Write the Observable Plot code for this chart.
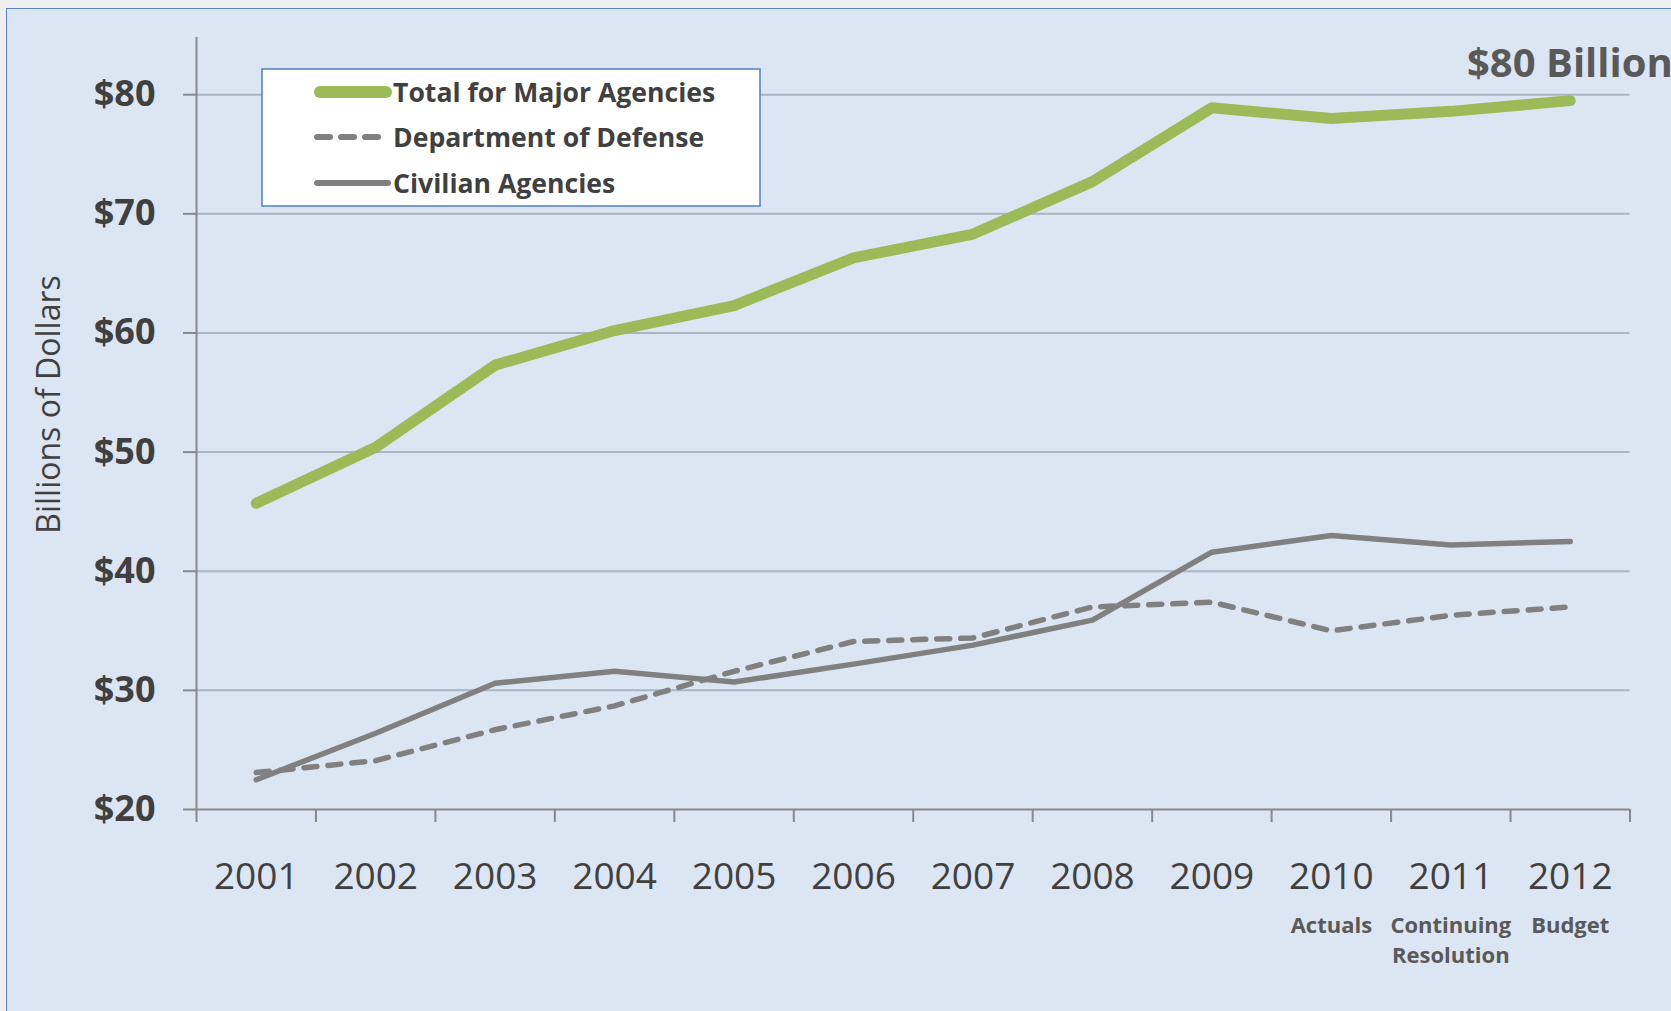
<!DOCTYPE html>
<html>
<head>
<meta charset="utf-8">
<script src="https://cdn.jsdelivr.net/npm/d3@7"></script>
<script src="https://cdn.jsdelivr.net/npm/@observablehq/plot@0.6"></script>
<style>
html, body { margin: 0; padding: 0; width: 1671px; height: 1011px; overflow: hidden; background: #efefef; font-family: "Open Sans", sans-serif; }
#panel { position: absolute; left: 6px; top: 8px; width: 1700px; height: 1100px; background: #dce6f2; border-left: 1.5px solid #5b87c5; border-top: 1.5px solid #5b87c5; }
#chart { position: absolute; left: 0; top: 0; }
#overlay { position: absolute; left: 0; top: 0; overflow: visible; }
</style>
</head>
<body>
<div id="panel"></div>
<div id="chart"></div>
<svg id="overlay" width="1671" height="1011"></svg>
<script>
// ---- data (billions of dollars) ----
const years = [2001, 2002, 2003, 2004, 2005, 2006, 2007, 2008, 2009, 2010, 2011, 2012];
const totalMajor = [45.7, 50.4, 57.3, 60.2, 62.3, 66.3, 68.3, 72.7, 78.9, 78.0, 78.6, 79.5];
const defense    = [23.1, 24.1, 26.7, 28.7, 31.6, 34.1, 34.4, 37.0, 37.4, 35.0, 36.3, 37.0];
const civilian   = [22.5, 26.4, 30.6, 31.6, 30.7, 32.2, 33.8, 35.9, 41.6, 43.0, 42.2, 42.5];
const seriesNames = ["Total for Major Agencies", "Department of Defense", "Civilian Agencies"];
const yTicks = [20, 30, 40, 50, 60, 70, 80];
const yearBoundaries = [2000.5, 2001.5, 2002.5, 2003.5, 2004.5, 2005.5, 2006.5, 2007.5, 2008.5, 2009.5, 2010.5, 2011.5, 2012.5];
const subLabelYears = [2010, 2011, 2012];
const subLabels = ["Actuals", "Continuing\nResolution", "Budget"];
const yLabel = "Billions of Dollars";
const annotation = "$80 Billion";

const rows = (vals) => years.map((y, i) => ({year: y, value: vals[i]}));
const totalRows = rows(totalMajor);
const defenseRows = rows(defense);
const civilianRows = rows(civilian);

const green = "#9bbb59";
const gray = "#808080";
const axisGray = "#888888";
const textDark = "#404040";

const plot = Plot.plot({
  width: 1671,
  height: 1011,
  marginLeft: 196,
  marginRight: 41.5,
  marginTop: 37,
  marginBottom: 202,
  style: {background: "transparent", fontFamily: "'Open Sans', sans-serif", overflow: "visible"},
  x: {type: "linear", domain: [2000.5, 2012.5]},
  y: {domain: [20, 84.8]},
  marks: [
    Plot.gridY(yTicks.slice(1), {stroke: "#aab5c3", strokeOpacity: 1, strokeWidth: 2}),
    Plot.axisY({ticks: yTicks, tickSize: 13, tickPadding: 28, tickFormat: d => "$" + d, label: null,
      fontSize: 36, fontWeight: "bold", fill: textDark, stroke: axisGray, strokeWidth: 2}),
    Plot.axisX({ticks: yearBoundaries, tickSize: 13, tickFormat: () => "", label: null, stroke: axisGray, strokeWidth: 2}),
    Plot.axisX({ticks: years, tickSize: 0, tickPadding: 53.7, tickFormat: d => String(d), label: null,
      fontSize: 37, fill: textDark}),
    Plot.axisX({ticks: subLabelYears, tickSize: 0, tickPadding: 102,
      tickFormat: d => subLabels[subLabelYears.indexOf(d)], label: null,
      fontSize: 22, fontWeight: "bold", fill: "#595959", lineHeight: 1.36}),
    Plot.ruleX([2000.5], {y1: 20, y2: 84.8, stroke: axisGray, strokeWidth: 2}),
    Plot.ruleY([20], {stroke: axisGray, strokeWidth: 2}),
    Plot.text([yLabel], {frameAnchor: "left", textAnchor: "middle", dx: -147, dy: -19, rotate: -90, fontSize: 32, fill: textDark}),
    Plot.line(defenseRows, {x: "year", y: "value", stroke: gray, strokeWidth: 5.5,
      strokeDasharray: "13,11", strokeLinecap: "round", strokeLinejoin: "round"}),
    Plot.line(civilianRows, {x: "year", y: "value", stroke: gray, strokeWidth: 5.5,
      strokeLinejoin: "round"}),
    Plot.line(totalRows, {x: "year", y: "value", stroke: green, strokeWidth: 11,
      strokeLinecap: "round", strokeLinejoin: "round"})
  ]
});
document.getElementById("chart").appendChild(plot);

// ---- legend & annotation overlay ----
const ov = d3.select("#overlay");
const lg = ov.append("g").attr("transform", "translate(262,69)");
lg.append("rect").attr("width", 498).attr("height", 137)
  .attr("fill", "#ffffff").attr("stroke", "#4f7fbf").attr("stroke-width", 1.5);
const swatches = [
  {stroke: green, width: 12, dash: null, cap: "round"},
  {stroke: gray, width: 6, dash: "13,11", cap: "round"},
  {stroke: gray, width: 6, dash: null, cap: "round"}
];
const rowY = [23, 68, 114];
seriesNames.forEach((name, i) => {
  const s = swatches[i];
  lg.append("line").attr("x1", i === 0 ? 58 : 55).attr("x2", i === 0 ? 124 : i === 1 ? 118 : 126)
    .attr("y1", rowY[i]).attr("y2", rowY[i])
    .attr("stroke", s.stroke).attr("stroke-width", s.width)
    .attr("stroke-linecap", s.cap).attr("stroke-dasharray", s.dash);
  lg.append("text").attr("x", 131).attr("y", rowY[i]).attr("dy", "0.36em")
    .attr("font-family", "'Open Sans', sans-serif").attr("font-weight", "bold")
    .attr("font-size", 26.6).attr("fill", textDark).text(name);
});
ov.append("text").attr("x", 1467).attr("y", 77)
  .attr("font-family", "'Open Sans', sans-serif").attr("font-weight", "bold")
  .attr("font-size", 40).attr("fill", "#595959").text(annotation);
</script>
</body>
</html>
